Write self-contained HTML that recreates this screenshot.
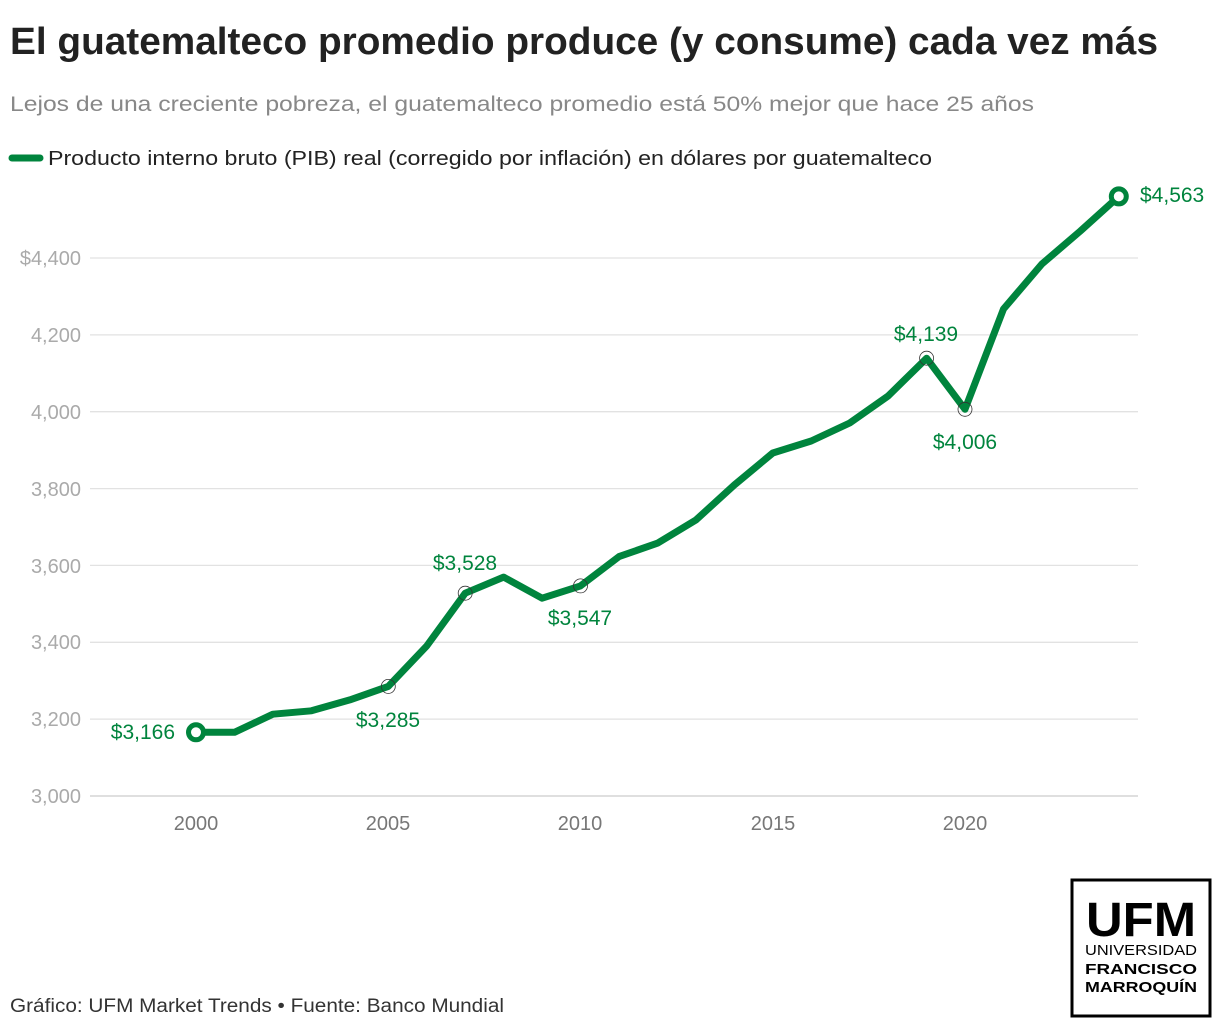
<!DOCTYPE html>
<html><head><meta charset="utf-8"><style>
html,body{margin:0;padding:0;background:#fff;}
svg{display:block;}
text{font-family:"Liberation Sans",sans-serif;}
</style></head><body>
<svg width="1220" height="1028" viewBox="0 0 1220 1028" xmlns="http://www.w3.org/2000/svg">
<text x="10" y="54" font-size="38" font-weight="bold" fill="#222" textLength="1148" lengthAdjust="spacingAndGlyphs">El guatemalteco promedio produce (y consume) cada vez más</text>
<text x="10" y="111" font-size="21" fill="#888" textLength="1024" lengthAdjust="spacingAndGlyphs">Lejos de una creciente pobreza, el guatemalteco promedio está 50% mejor que hace 25 años</text>
<line x1="12" y1="158" x2="40" y2="158" stroke="#00843d" stroke-width="7" stroke-linecap="round"/>
<text x="48" y="165" font-size="20" fill="#222" textLength="884" lengthAdjust="spacingAndGlyphs">Producto interno bruto (PIB) real (corregido por inflación) en dólares por guatemalteco</text>
<g stroke="#e2e2e2" stroke-width="1.3">
<line x1="90" x2="1138" y1="258" y2="258"/><line x1="90" x2="1138" y1="334.9" y2="334.9"/>
<line x1="90" x2="1138" y1="411.7" y2="411.7"/><line x1="90" x2="1138" y1="488.6" y2="488.6"/>
<line x1="90" x2="1138" y1="565.4" y2="565.4"/><line x1="90" x2="1138" y1="642.3" y2="642.3"/>
<line x1="90" x2="1138" y1="719.1" y2="719.1"/>
</g>
<line x1="90" x2="1138" y1="796" y2="796" stroke="#ccc" stroke-width="1.3"/>
<g font-size="20" fill="#aaa" text-anchor="end">
<text x="81" y="265">$4,400</text><text x="81" y="342">4,200</text><text x="81" y="419">4,000</text>
<text x="81" y="496">3,800</text><text x="81" y="573">3,600</text><text x="81" y="649">3,400</text>
<text x="81" y="726">3,200</text><text x="81" y="803">3,000</text>
</g>
<g font-size="20" fill="#777" text-anchor="middle">
<text x="196" y="830">2000</text><text x="388" y="830">2005</text><text x="580" y="830">2010</text>
<text x="773" y="830">2015</text><text x="965" y="830">2020</text>
</g>
<polyline fill="none" stroke="#00843d" stroke-width="7" stroke-linejoin="round" stroke-linecap="round" points="196,732.3 234.5,732.3 272.9,714.2 311.4,710.8 349.8,699.9 388.3,686.4 426.7,646 465.2,593.2 503.6,577.1 542.1,598.2 580.5,585.9 619,556.6 657.4,543.2 695.9,520 734.3,485 772.8,453 811.2,441 849.7,423 888.1,396 926.6,358.2 965,409.3 1003.5,309 1041.9,264 1080.4,231 1118.8,196.4"/>
<g fill="none" stroke="#333" stroke-width="0.8">
<circle cx="388.3" cy="686.4" r="7"/><circle cx="465.2" cy="593.2" r="7"/><circle cx="580.5" cy="585.9" r="7"/>
<circle cx="926.6" cy="358.2" r="7"/><circle cx="965" cy="409.3" r="7"/>
</g>
<circle cx="196" cy="732.3" r="7.5" fill="#fff" stroke="#00843d" stroke-width="5"/>
<circle cx="1118.8" cy="196.4" r="7.5" fill="#fff" stroke="#00843d" stroke-width="5"/>
<g font-size="21" fill="#00843d">
<text x="175" y="739" text-anchor="end">$3,166</text>
<text x="388" y="727" text-anchor="middle">$3,285</text>
<text x="465" y="570" text-anchor="middle">$3,528</text>
<text x="580" y="625" text-anchor="middle">$3,547</text>
<text x="926" y="341" text-anchor="middle">$4,139</text>
<text x="965" y="449" text-anchor="middle">$4,006</text>
<text x="1140" y="202">$4,563</text>
</g>
<text x="10" y="1012" font-size="19" fill="#333" textLength="494" lengthAdjust="spacingAndGlyphs">Gráfico: UFM Market Trends • Fuente: Banco Mundial</text>
<rect x="1072" y="880" width="138" height="136" fill="#fff" stroke="#000" stroke-width="3"/>
<text x="1141" y="936" font-size="48" font-weight="bold" fill="#000" text-anchor="middle" textLength="110" lengthAdjust="spacingAndGlyphs">UFM</text>
<text x="1141" y="955" font-size="15" fill="#000" text-anchor="middle" textLength="112" lengthAdjust="spacingAndGlyphs">UNIVERSIDAD</text>
<text x="1141" y="974" font-size="15" font-weight="bold" fill="#000" text-anchor="middle" textLength="112" lengthAdjust="spacingAndGlyphs">FRANCISCO</text>
<text x="1141" y="992" font-size="15" font-weight="bold" fill="#000" text-anchor="middle" textLength="112" lengthAdjust="spacingAndGlyphs">MARROQUÍN</text>
</svg>
</body></html>
